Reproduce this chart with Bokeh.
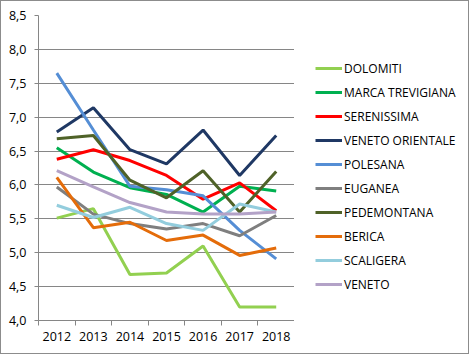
from bokeh.plotting import figure
from bokeh.layouts import row
from bokeh.models import FixedTicker, CustomJSTickFormatter, Legend, LegendItem, Range1d
from bokeh.embed import file_html
from bokeh.resources import INLINE

years = [2012, 2013, 2014, 2015, 2016, 2017, 2018]

dolomiti = [5.51, 5.65, 4.68, 4.70, 5.10, 4.20, 4.20]
marca_trevigiana = [6.55, 6.19, 5.96, 5.86, 5.60, 5.98, 5.91]
serenissima = [6.38, 6.52, 6.36, 6.14, 5.79, 6.03, 5.62]
veneto_orientale = [6.78, 7.14, 6.52, 6.31, 6.81, 6.14, 6.73]
polesana = [7.65, 6.81, 5.98, 5.93, 5.84, 5.33, 4.91]
euganea = [5.97, 5.57, 5.43, 5.35, 5.43, 5.25, 5.55]
pedemontana = [6.68, 6.73, 6.07, 5.81, 6.21, 5.60, 6.20]
berica = [6.11, 5.37, 5.45, 5.18, 5.26, 4.96, 5.07]
scaligera = [5.70, 5.52, 5.67, 5.43, 5.33, 5.72, 5.60]
veneto = [6.21, 5.97, 5.74, 5.60, 5.57, 5.57, 5.60]

series_names = ["DOLOMITI", "MARCA TREVIGIANA", "SERENISSIMA", "VENETO ORIENTALE",
                "POLESANA", "EUGANEA", "PEDEMONTANA", "BERICA", "SCALIGERA", "VENETO"]
series_values = [dolomiti, marca_trevigiana, serenissima, veneto_orientale,
                 polesana, euganea, pedemontana, berica, scaligera, veneto]
series_colors = ["#92D050", "#00B050", "#FF0000", "#1F3864", "#558ED5",
                 "#7F7F7F", "#4F6228", "#E46C0A", "#93CDDD", "#B3A2C7"]

y_ticks = [4.0, 4.5, 5.0, 5.5, 6.0, 6.5, 7.0, 7.5, 8.0, 8.5]

FONT = "Open Sans"
GRID = "#868686"

# ---- main chart ----
p = figure(width=293, height=352, output_backend="svg", toolbar_location=None,
           x_range=Range1d(years[0] - 0.5, years[-1] + 0.5),
           y_range=Range1d(4.0, 8.5),
           min_border_left=37, min_border_right=0, min_border_top=14, min_border_bottom=33)
p.outline_line_color = None
p.background_fill_color = "white"
p.border_fill_color = "white"

p.xgrid.visible = False
p.ygrid.ticker = FixedTicker(ticks=y_ticks)
p.ygrid.grid_line_color = GRID
p.ygrid.grid_line_width = 1

p.xaxis.ticker = FixedTicker(ticks=years, minor_ticks=[y - 0.5 for y in years] + [years[-1] + 0.5])
p.xaxis.formatter = CustomJSTickFormatter(code="return tick.toFixed(0);")
p.xaxis.major_tick_out = 0
p.xaxis.major_tick_in = 0
p.xaxis.minor_tick_out = 5
p.xaxis.minor_tick_in = 0
p.xaxis.minor_tick_line_color = GRID
p.xaxis.axis_line_color = GRID
p.xaxis.major_label_standoff = 6

p.yaxis.ticker = FixedTicker(ticks=y_ticks)
p.yaxis.formatter = CustomJSTickFormatter(code="return tick.toFixed(1).replace('.', ',');")
p.yaxis.major_tick_out = 4
p.yaxis.major_tick_in = 0
p.yaxis.minor_tick_out = 0
p.yaxis.minor_tick_in = 0
p.yaxis.major_tick_line_color = GRID
p.yaxis.axis_line_color = GRID
p.yaxis.major_label_standoff = 8

for ax in (p.xaxis, p.yaxis):
    ax.major_label_text_font = FONT
    ax.major_label_text_font_size = "12.5px"
    ax.major_label_text_color = "#000000"

for vals, col in zip(series_values, series_colors):
    p.line(years, vals, line_color=col, line_width=3)

# ---- legend panel ----
q = figure(width=174, height=352, output_backend="svg", toolbar_location=None,
           x_range=Range1d(0, 1), y_range=Range1d(0, 1),
           min_border_left=21, min_border_right=0, min_border_top=14, min_border_bottom=33)
q.axis.visible = False
q.grid.visible = False
q.outline_line_color = None
q.background_fill_color = "white"
q.border_fill_color = "white"

items = []
for name, vals, col in zip(series_names, series_values, series_colors):
    r = q.line(years, vals, line_color=col, line_width=3, visible=False)
    items.append(LegendItem(label=name, renderers=[r]))

legend = Legend(items=items, location=(0, 26), padding=0, margin=0,
                glyph_width=27, glyph_height=20, label_height=20, spacing=4,
                label_standoff=2, border_line_color=None, background_fill_alpha=0,
                label_text_font=FONT, label_text_font_size="12px",
                label_text_color="#000000")
q.add_layout(legend, "center")

layout = row(p, q, spacing=0)
layout.styles = {"border": "1px solid #8c8c8c"}

html = file_html(layout, INLINE)
open("out.html", "w").write(html)
